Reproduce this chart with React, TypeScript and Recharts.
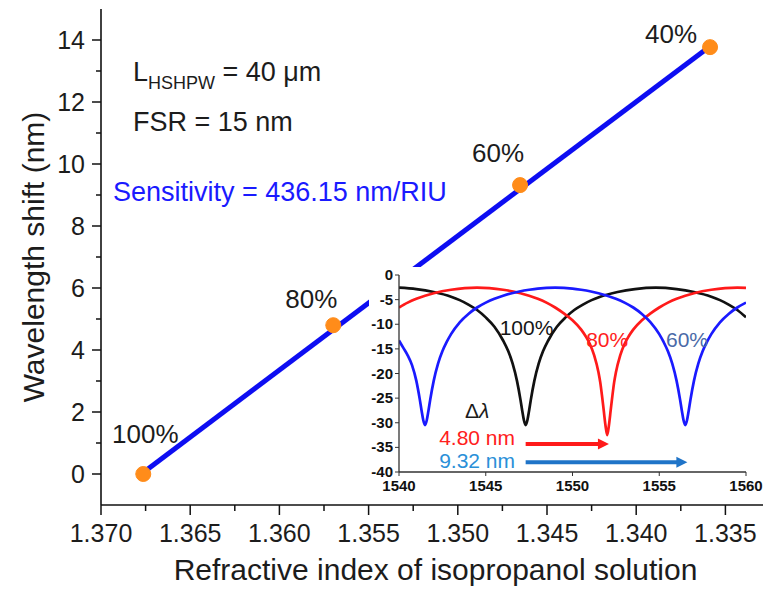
import React from 'react';
import { LineChart, Line, XAxis, YAxis, ReferenceDot, ReferenceLine, LabelList } from 'recharts';

const FONT = 'Arial, "Liberation Sans", Helvetica, sans-serif';
const TEXT = '#1c1c1c';
const AXIS = '#111';
const ORANGE = '#ff8c1a';
const FIT_BLUE = '#0d0df2';

// main plot: resonance shift vs refractive index
const concentrations = ['100%', '80%', '60%', '40%'];
const refractiveIndex = [1.36763, 1.35698, 1.34651, 1.33586];
const wavelengthShift = [0, 4.8, 9.32, 13.77];

// linear fit (end points)
const fitIndex = [1.36763, 1.33586];
const fitShift = [0.05, 13.8];

const xMajor = [1.37, 1.365, 1.36, 1.355, 1.35, 1.345, 1.34, 1.335];
const xMinor = [1.3675, 1.3625, 1.3575, 1.3525, 1.3475, 1.3425, 1.3375];
const yMajor = [0, 2, 4, 6, 8, 10, 12, 14];
const yMinor = [1, 3, 5, 7, 9, 11, 13];

// inset: transmission spectra (dB)
const wl100 = [1540, 1541, 1542, 1543, 1543.5, 1544, 1544.5, 1545, 1545.5, 1546, 1546.3, 1546.55, 1546.8, 1547.0, 1547.1, 1547.2, 1547.3, 1547.4, 1547.5, 1547.6, 1547.8, 1548.05, 1548.3, 1548.6, 1549.1, 1549.6, 1550.1, 1550.6, 1551.1, 1551.6, 1552.6, 1553.6, 1554.8, 1556, 1557, 1558, 1558.5, 1559, 1559.5, 1560];
const t100 = [-2.55, -2.85, -3.45, -4.4, -5.1, -6.0, -7.1, -8.6, -10.5, -13.3, -15.5, -18, -21.5, -25.3, -27.5, -29.5, -30.5, -29.5, -27.5, -25.3, -21.5, -18, -15.5, -13.3, -10.5, -8.6, -7.1, -6.0, -5.1, -4.4, -3.45, -2.85, -2.55, -2.85, -3.45, -4.4, -5.1, -6.0, -7.1, -8.6];

const wl80 = [1540, 1540.5, 1541, 1541.5, 1542, 1543, 1544.5, 1546, 1547, 1547.5, 1548, 1548.5, 1549, 1549.5, 1550, 1550.5, 1550.75, 1551, 1551.25, 1551.5, 1551.6, 1551.7, 1551.8, 1551.9, 1552, 1552.1, 1552.2, 1552.3, 1552.4, 1552.5, 1552.75, 1553, 1553.25, 1553.5, 1554, 1554.5, 1555, 1555.5, 1556, 1556.5, 1557, 1558, 1559.5, 1560];
const t80 = [-6.6, -5.6, -4.8, -4.2, -3.7, -3.0, -2.55, -3.0, -3.7, -4.2, -4.8, -5.6, -6.6, -7.8, -9.2, -11.1, -12.4, -14.0, -16.3, -19.8, -21.8, -24.5, -27.5, -30.5, -32.5, -30.5, -27.5, -24.5, -21.8, -19.8, -16.3, -14.0, -12.4, -11.1, -9.2, -7.8, -6.6, -5.6, -4.8, -4.2, -3.7, -3.0, -2.55, -2.6];

const wl60 = [1540, 1540.25, 1540.5, 1540.75, 1541.0, 1541.2, 1541.3, 1541.4, 1541.5, 1541.6, 1541.7, 1541.8, 1542, 1542.25, 1542.5, 1542.75, 1543, 1543.5, 1544, 1544.5, 1545, 1545.5, 1546, 1546.5, 1547, 1547.5, 1548, 1549, 1550, 1550.5, 1551, 1551.5, 1552, 1552.5, 1553, 1553.5, 1554, 1554.5, 1555, 1555.25, 1555.5, 1555.75, 1556, 1556.2, 1556.3, 1556.4, 1556.5, 1556.6, 1556.7, 1556.8, 1557, 1557.25, 1557.5, 1557.75, 1558, 1558.5, 1559, 1559.5, 1560];
const t60 = [-13.3, -14.8, -16.3, -18.3, -21.5, -25.3, -27.5, -29.5, -30.5, -29.5, -27.5, -25.3, -21.5, -18, -15.5, -13.6, -12, -9.6, -7.9, -6.6, -5.6, -4.8, -4.2, -3.7, -3.3, -3.0, -2.75, -2.55, -2.75, -3.0, -3.3, -3.7, -4.2, -4.8, -5.6, -6.6, -7.9, -9.6, -12, -13.6, -15.5, -18, -21.5, -25.3, -27.5, -29.5, -30.5, -29.5, -27.5, -25.3, -21.5, -18, -15.5, -13.6, -12, -9.6, -7.9, -6.6, -5.6];

const insetXTicks = [1540, 1545, 1550, 1555, 1560];
const insetYTicks = [0, -5, -10, -15, -20, -25, -30, -35, -40];

const shift80 = 4.8;
const shift60 = 9.32;

// label placement (pixels relative to each point: centre x, baseline y)
const labelNudge = [
  { dx: 2, dy: -31 },
  { dx: -22, dy: -17 },
  { dx: -22, dy: -23 },
  { dx: -39, dy: -4 },
];

const pointRows = concentrations.map((label, i) => ({ x: refractiveIndex[i], y: wavelengthShift[i], label }));
const fitRows = fitIndex.map((x, i) => ({ x, y: fitShift[i] }));
const toRows = (xs: number[], ys: number[]) => xs.map((x, i) => ({ x, y: ys[i] }));
const rows100 = toRows(wl100, t100);
const rows80 = toRows(wl80, t80);
const rows60 = toRows(wl60, t60);
const blackDip = wl100[t100.indexOf(Math.min(...t100))];

const xTicksAll = [...xMajor, ...xMinor].sort((a, b) => b - a);
const yTicksAll = [...yMajor, ...yMinor].sort((a, b) => a - b);
const isIn = (v: number, arr: number[]) => arr.some((a) => Math.abs(a - v) < 1e-6);

const BottomTick = ({ x, y, payload }: any) => {
  const major = isIn(payload.value, xMajor);
  return (
    <g>
      <line x1={x} y1={y} x2={x} y2={y + (major ? 10 : 6)} stroke={AXIS} strokeWidth={1.5} />
      {major && (
        <text x={x} y={y + 37} textAnchor="middle" fontSize={25} fill={TEXT}>
          {payload.value.toFixed(3)}
        </text>
      )}
    </g>
  );
};

const TopTick = ({ x, y, payload }: any) => {
  const major = isIn(payload.value, xMajor);
  return <line x1={x} y1={y} x2={x} y2={y + (major ? 9 : 5)} stroke={AXIS} strokeWidth={1.5} />;
};

const LeftTick = ({ x, y, payload }: any) => {
  const major = isIn(payload.value, yMajor);
  return (
    <g>
      <line x1={x - (major ? 9 : 5)} y1={y} x2={x} y2={y} stroke={AXIS} strokeWidth={1.5} />
      {major && (
        <text x={x - 16} y={y + 9} textAnchor="end" fontSize={25} fill={TEXT}>
          {payload.value}
        </text>
      )}
    </g>
  );
};

const RightTick = ({ x, y, payload }: any) => {
  const major = isIn(payload.value, yMajor);
  return <line x1={x - (major ? 9 : 5)} y1={y} x2={x} y2={y} stroke={AXIS} strokeWidth={1.5} />;
};

// inset ticks: bold small labels
const InsetBottomTick = ({ x, y, payload }: any) => (
  <text x={x} y={y + 11} textAnchor="middle" fontSize={15} fontWeight="bold" fill="#111">
    {payload.value}
  </text>
);

const InsetLeftTick = ({ x, y, payload }: any) => (
  <text x={x} y={y + 5} textAnchor="end" fontSize={15} fontWeight="bold" fill="#111">
    {payload.value}
  </text>
);

const XTitle = ({ viewBox }: any) => (
  <text x={viewBox.x + viewBox.width / 2} y={viewBox.y + 75} textAnchor="middle" fontSize={30} fill={TEXT}>
    Refractive index of isopropanol solution
  </text>
);

const YTitle = ({ viewBox }: any) => (
  <text
    transform={`translate(${viewBox.x + 44}, ${viewBox.y + viewBox.height / 2}) rotate(-90)`}
    textAnchor="middle"
    fontSize={30}
    fill={TEXT}
  >
    Wavelength shift (nm)
  </text>
);

const PctLabel = ({ x, y, value }: any) => {
  const n = labelNudge[concentrations.indexOf(value)] || { dx: 0, dy: -10 };
  return (
    <text x={x + n.dx} y={y + n.dy} textAnchor="middle" fontSize={26} fill={TEXT}>
      {value}
    </text>
  );
};

const LengthNote = ({ viewBox }: any) => (
  <text x={viewBox.x} y={viewBox.y} fontSize={27} fill={TEXT} style={{ whiteSpace: 'pre' }}>
    <tspan>L</tspan>
    <tspan fontSize={18} dy={8}>HSHPW</tspan>
    <tspan dy={-8}> = 40 μm</tspan>
  </text>
);

const PlainNote = ({ viewBox, text, color, size, anchor }: any) => (
  <text x={viewBox.x} y={viewBox.y} fontSize={size} fill={color} textAnchor={anchor || 'start'}>
    {text}
  </text>
);

const DeltaNote = ({ viewBox }: any) => (
  <text x={viewBox.x} y={viewBox.y} fontSize={21} fill={TEXT} textAnchor="middle">
    <tspan>Δ</tspan>
    <tspan fontStyle="italic">λ</tspan>
  </text>
);

const arrowShape = (color: string) => (p: any) => {
  const { x1, y1, x2, y2 } = p;
  const head = 11;
  return (
    <g>
      <line x1={x1} y1={y1} x2={x2 - head + 1} y2={y2} stroke={color} strokeWidth={4} />
      <polygon points={`${x2},${y2} ${x2 - head},${y2 - 5.5} ${x2 - head},${y2 + 5.5}`} fill={color} />
    </g>
  );
};

const insetNotes = [
  { text: '100%', x: 1547.35, y: -12.2, color: '#151515' },
  { text: '80%', x: 1552.0, y: -14.6, color: '#ff2020' },
  { text: '60%', x: 1556.6, y: -14.6, color: '#4a6aa8' },
  { text: '4.80 nm', x: 1544.5, y: -34.6, color: '#ff2020' },
  { text: '9.32 nm', x: 1544.5, y: -39.1, color: '#2a90d8' },
];

export default function App() {
  return (
    <div
      style={{
        position: 'absolute',
        left: 0,
        top: 0,
        width: 763,
        height: 589,
        overflow: 'hidden',
        background: '#fff',
        fontFamily: FONT,
      }}
    >
      <LineChart width={790} height={589} margin={{ top: 9, right: 20, bottom: 0, left: 0 }}>
        <XAxis
          dataKey="x"
          type="number"
          domain={[1.3325, 1.37]}
          reversed
          allowDataOverflow
          ticks={xTicksAll}
          interval={0}
          tickSize={0}
          tickMargin={0}
          tickLine={false}
          tick={(p: any) => <BottomTick {...p} />}
          height={84}
          axisLine={{ stroke: AXIS, strokeWidth: 1.6 }}
          label={<XTitle />}
        />
        <XAxis
          xAxisId="top"
          orientation="top"
          type="number"
          domain={[1.3325, 1.37]}
          reversed
          allowDataOverflow
          ticks={xTicksAll}
          interval={0}
          tickSize={0}
          tickMargin={0}
          tickLine={false}
          tick={(p: any) => <TopTick {...p} />}
          height={0}
          axisLine={{ stroke: AXIS, strokeWidth: 1.6 }}
        />
        <YAxis
          type="number"
          domain={[-1, 15]}
          allowDataOverflow
          ticks={yTicksAll}
          interval={0}
          tickSize={0}
          tickMargin={0}
          tickLine={false}
          tick={(p: any) => <LeftTick {...p} />}
          width={101}
          axisLine={{ stroke: AXIS, strokeWidth: 1.6 }}
          label={<YTitle />}
        />
        <YAxis
          yAxisId="right"
          orientation="right"
          type="number"
          domain={[-1, 15]}
          allowDataOverflow
          ticks={yTicksAll}
          interval={0}
          tickSize={0}
          tickMargin={0}
          tickLine={false}
          tick={(p: any) => <RightTick {...p} />}
          width={0}
          axisLine={{ stroke: AXIS, strokeWidth: 1.6 }}
        />
        <Line
          data={pointRows}
          dataKey="y"
          stroke="none"
          dot={{ r: 7.5, fill: ORANGE, stroke: ORANGE, strokeWidth: 1 }}
          isAnimationActive={false}
        >
          <LabelList dataKey="label" content={(p: any) => <PctLabel {...p} />} />
        </Line>
        <Line data={fitRows} dataKey="y" stroke={FIT_BLUE} strokeWidth={5} dot={false} isAnimationActive={false} />
        <ReferenceDot x={1.36821} y={12.69} r={0} fill="none" stroke="none" label={<LengthNote />} />
        <ReferenceDot
          x={1.36821}
          y={11.05}
          r={0}
          fill="none"
          stroke="none"
          label={<PlainNote text="FSR = 15 nm" color={TEXT} size={27} />}
        />
        <ReferenceDot
          x={1.36933}
          y={8.82}
          r={0}
          fill="none"
          stroke="none"
          label={<PlainNote text="Sensitivity = 436.15 nm/RIU" color="#1a1aff" size={27} />}
        />
      </LineChart>

      <div style={{ position: 'absolute', left: 369, top: 267, width: 400, height: 236, background: '#fff' }}>
        <LineChart width={400} height={236} margin={{ top: 8, right: 23, bottom: 0, left: 0 }}>
          <XAxis
            dataKey="x"
            type="number"
            domain={[1540, 1560]}
            allowDataOverflow
            ticks={insetXTicks}
            interval={0}
            tickSize={4}
            tickMargin={4}
            height={31}
            tick={(p: any) => <InsetBottomTick {...p} />}
            tickLine={{ stroke: '#333' }}
            axisLine={{ stroke: '#333', strokeWidth: 1.3 }}
          />
          <XAxis
            xAxisId="t"
            orientation="top"
            type="number"
            domain={[1540, 1560]}
            allowDataOverflow
            height={0}
            tick={false}
            tickLine={false}
            axisLine={{ stroke: '#333', strokeWidth: 1.3 }}
          />
          <YAxis
            type="number"
            domain={[-40, 0]}
            allowDataOverflow
            ticks={insetYTicks}
            interval={0}
            tickSize={4}
            tickMargin={2}
            width={30}
            tick={(p: any) => <InsetLeftTick {...p} />}
            tickLine={{ stroke: '#333' }}
            axisLine={{ stroke: '#333', strokeWidth: 1.3 }}
          />
          <YAxis
            yAxisId="r"
            orientation="right"
            type="number"
            domain={[-40, 0]}
            allowDataOverflow
            width={0}
            tick={false}
            tickLine={false}
            axisLine={{ stroke: '#333', strokeWidth: 1.3 }}
          />
          <Line data={rows100} dataKey="y" type="monotone" stroke="#111" strokeWidth={2.7} dot={false} isAnimationActive={false} />
          <Line data={rows80} dataKey="y" type="monotone" stroke="#ff1a1a" strokeWidth={2.7} dot={false} isAnimationActive={false} />
          <Line data={rows60} dataKey="y" type="monotone" stroke="#1a1aff" strokeWidth={2.7} dot={false} isAnimationActive={false} />
          <ReferenceLine
            segment={[{ x: blackDip, y: -34.3 }, { x: blackDip + shift80, y: -34.3 }]}
            shape={arrowShape('#ff1a1a')}
          />
          <ReferenceLine
            segment={[{ x: blackDip, y: -38 }, { x: blackDip + shift60, y: -38 }]}
            shape={arrowShape('#1f74c8')}
          />
          {insetNotes.map((n) => (
            <ReferenceDot
              key={n.text}
              x={n.x}
              y={n.y}
              r={0}
              fill="none"
              stroke="none"
              label={<PlainNote text={n.text} color={n.color} size={21} anchor="middle" />}
            />
          ))}
          <ReferenceDot x={1544.5} y={-29.1} r={0} fill="none" stroke="none" label={<DeltaNote />} />
        </LineChart>
      </div>
    </div>
  );
}
